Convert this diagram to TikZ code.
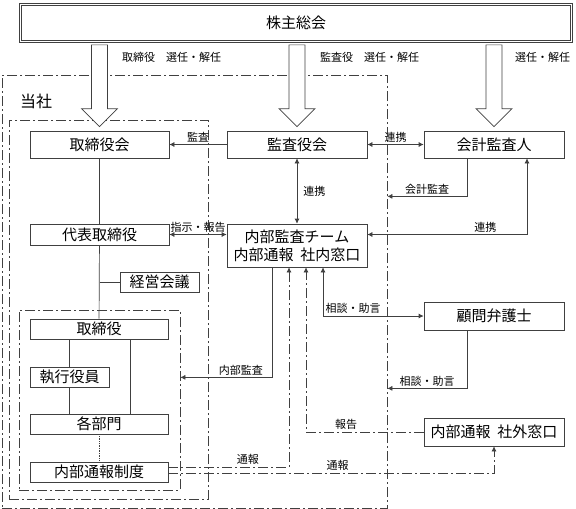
\documentclass[tikz,border=0pt]{standalone}
\usepackage{fontspec}
\setmainfont{Noto Sans CJK JP}
\usetikzlibrary{arrows.meta,calc}

\begin{document}
\begin{tikzpicture}[x=1pt,y=-1pt,
  box/.style={draw=black!75, line width=0.7pt, fill=white, inner sep=0pt, font=\fontsize{15}{18}\selectfont},
  frame/.style={draw=black!75, line width=0.7pt, dash pattern=on 10pt off 3pt on 2pt off 3pt, inner sep=0pt},
  lbl/.style={font=\fontsize{11}{11}\selectfont, inner sep=2pt},
  line/.style={draw=black!75, line width=0.7pt},
  arr/.style={line, -{Latex[length=5pt,width=5pt]}},
  darr/.style={line, {Latex[length=5pt,width=5pt]}-{Latex[length=5pt,width=5pt]}},
  dd/.style={dash pattern=on 10pt off 3pt on 2pt off 3pt},
  bigarrow/.style={draw=black!75, line width=0.7pt, fill=white}]
 \useasboundingbox (0,0) rectangle (576,509);

 \node [frame, minimum width=385, minimum height=433] (tousha) at (194.5,291.5) {};
 \node [frame, minimum width=199, minimum height=379] (honsha) at (108.5,309.5) {};
 \node [frame, minimum width=161, minimum height=180] (gyomu) at (99.5,400) {};
 \node [anchor=west, inner sep=0pt, font=\fontsize{16}{16}\selectfont] (toushalbl) at (20,101) {当社};

 \node [box, minimum width=553, minimum height=39] (soukai) at (296,23) {株主総会};
 \draw [line] ([shift={(2.2pt,-2.2pt)}]soukai.north west) rectangle ([shift={(-2.2pt,2.2pt)}]soukai.south east);
 \node [box, minimum width=139, minimum height=27] (torikai) at (99.5,144.5) {取締役会};
 \node [box, minimum width=140, minimum height=27] (kansa) at (297,144.5) {監査役会};
 \node [box, minimum width=140, minimum height=27] (kaikei) at (494,144.5) {会計監査人};
 \node [box, minimum width=139, minimum height=21] (daihyo) at (99.5,234.5) {代表取締役};
 \node [box, minimum width=140, minimum height=43, align=center] (naibu) at (297,245.5) {内部監査チーム\\内部通報\hspace{0.45em}社内窓口};
 \node [box, minimum width=79, minimum height=20] (keiei) at (159.5,282) {経営会議};
 \node [box, minimum width=138, minimum height=20] (tori) at (99,329) {取締役};
 \node [box, minimum width=79, minimum height=20] (shikko) at (69.5,377) {執行役員};
 \node [box, minimum width=138, minimum height=20] (kakubu) at (99,424) {各部門};
 \node [box, minimum width=138, minimum height=20] (seido) at (99,472) {内部通報制度};
 \node [box, minimum width=140, minimum height=28] (komon) at (494,316) {顧問弁護士};
 \node [box, minimum width=140, minimum height=28] (gaibu) at (494,432) {内部通報\hspace{0.45em}社外窓口};

 \foreach \t in {torikai,kansa,kaikei}
  \draw [bigarrow] let \p1=(\t.north), \p2=(soukai.south) in
   (\x1-8pt,\y2-2pt) -- (\x1-8pt,\y1+22pt) -- (\x1-18pt,\y1+22pt) -- (\x1,\y1+4pt)
   -- (\x1+18pt,\y1+22pt) -- (\x1+8pt,\y1+22pt) -- (\x1+8pt,\y2-2pt) -- cycle;
 \node [lbl, anchor=west] (sennin1) at (120,57) {取締役　選任・解任};
 \node [lbl, anchor=west] (sennin2) at (318,57) {監査役　選任・解任};
 \node [lbl, anchor=west] (sennin3) at (513,57) {選任・解任};

 \draw [arr] (kansa) -- node[lbl, above] {監査} (torikai);
 \draw [darr] (kansa) -- node[lbl, above] {連携} (kaikei);
 \draw [darr] (kansa) -- node[lbl, right=4pt] {連携} (naibu);
 \draw [darr] (daihyo) -- node[lbl, above] {指示・報告} (naibu.west |- daihyo);
 \draw [line] (torikai) -- (daihyo);
 \draw [line] (daihyo) -- (tori);
 \draw [line] (daihyo.south |- keiei) -- (keiei);
 \draw [line] (shikko) -- (shikko |- tori.south);
 \draw [line] (shikko) -- (shikko |- kakubu.north);
 \draw [line] ([xshift=31pt]tori.south) -- ([xshift=31pt]tori.south |- kakubu.north);
 \draw [line, densely dotted, line width=0.5pt] (kakubu) -- (seido);

 \draw [arr] ([xshift=-27pt]kaikei.south) |- node[lbl, pos=0.75, above] {会計監査} ([yshift=-38pt]kaikei.south -| tousha.east);
 \draw [darr] (naibu.east |- daihyo) -| node[lbl, pos=0.37, above] {連携} ([xshift=33pt]kaikei.south);
 \draw [darr] ([xshift=26pt]naibu.south) |- node[lbl, pos=0.65, above] {相談・助言} (komon);
 \draw [arr] ([xshift=-27pt]komon.south) |- node[lbl, pos=0.75, above] {相談・助言} ([yshift=-58pt]komon.south -| tousha.east);
 \draw [arr] ([xshift=-25pt]naibu.south) |- node[lbl, pos=0.67, above] {内部監査} ([yshift=-110pt]naibu.south -| gyomu.east);

 \draw [arr, dd] ([yshift=5pt]seido.east) -| node[lbl, pos=0.33, above] {通報} ([xshift=-8pt]naibu.south);
 \draw [arr, dd] ([yshift=-1pt]seido.east) -| node[lbl, pos=0.26, above] {通報} (gaibu);
 \draw [arr, dd] (gaibu) -| node[lbl, pos=0.33, above] {報告} ([xshift=9pt]naibu.south);
\end{tikzpicture}
\end{document}
